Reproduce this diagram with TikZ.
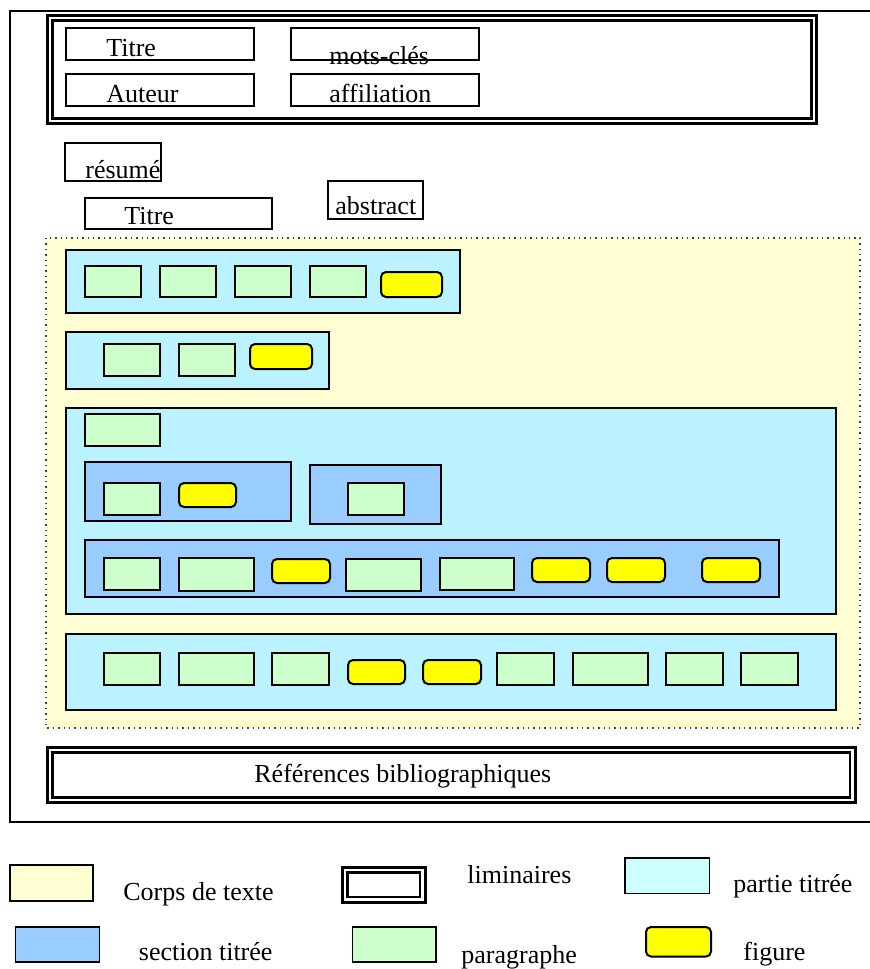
\documentclass[tikz,border=0pt]{standalone}
\usepackage{fontspec}
\setmainfont{Liberation Serif}
\definecolor{corpsjaune}{HTML}{FFFDD2}
\definecolor{partiecyan}{HTML}{BAF2FF}
\definecolor{legendcyan}{HTML}{CCFFFF}
\definecolor{sectionbleu}{HTML}{99CCFF}
\definecolor{paravert}{HTML}{CCFFCC}
\definecolor{figjaune}{HTML}{FFFF00}
\tikzset{
  lbl/.style={anchor=base west, inner sep=0pt, font=\fontsize{13}{15}\selectfont},
  cadre/.style={draw, line width=0.9pt},
  liminaire/.style={draw, line width=1.4pt, double, double distance=1.2pt},
  corpsbox/.style={draw=black!75, dotted, line width=0.7pt, fill=corpsjaune},
  partiebox/.style={draw, line width=1pt, fill=partiecyan},
  sectionbox/.style={draw, line width=1pt, fill=sectionbleu},
  parabox/.style={draw, line width=1pt, fill=paravert},
  figbox/.style={draw, line width=1pt, fill=figjaune, rounded corners=2.5pt},
}
\begin{document}
\begin{tikzpicture}[x=0.5pt, y=-0.5pt]
	\useasboundingbox (0,0) rectangle (869,969);
	% page
	\draw[line width=0.8pt] (890,11) -- (10,11) -- (10,822) -- (890,822);
	% liminaires
	\draw[liminaire] (50,18) rectangle (814,121);
	\draw[cadre] (66,28) rectangle (254,60);
	\draw[cadre] (291,28) rectangle (479,60);
	\draw[cadre] (66,74) rectangle (254,106);
	\draw[cadre] (291,74) rectangle (479,106);
	\node[lbl] (titre) at (106,56) {Titre};
	\node[lbl] (motscles) at (329,64) {mots-clés};
	\node[lbl] (auteur) at (106,102.5) {Auteur};
	\node[lbl] (affiliation) at (329,102.5) {affiliation};
	\draw[cadre, line width=1.2pt] (65,143) rectangle (161,181);
	\node[lbl] (resume) at (85,178) {résumé};
	\draw[cadre] (85,198) rectangle (272,229);
	\node[lbl] (titreen) at (124,224) {Titre};
	\draw[cadre, line width=1.2pt] (328,181) rectangle (423,219);
	\node[lbl] (abstract) at (335,214) {abstract};
	% corps de texte
	\draw[corpsbox] (46,238) rectangle (860,728);
	% partie 1
	\draw[partiebox] (66,250) rectangle (460,313);
	\draw[parabox] (85,266) rectangle (141,297);
	\draw[parabox] (160,266) rectangle (216,297);
	\draw[parabox] (235,266) rectangle (291,297);
	\draw[parabox] (310,266) rectangle (366,297);
	\draw[figbox] (381,272) rectangle (442,297);
	% partie 2
	\draw[partiebox] (66,332) rectangle (329,389);
	\draw[parabox] (104,344) rectangle (160,376);
	\draw[parabox] (179,344) rectangle (235,376);
	\draw[figbox] (250,344) rectangle (312,369);
	% partie 3
	\draw[partiebox] (66,408) rectangle (836,614);
	\draw[parabox] (85,414) rectangle (160,446);
	\draw[sectionbox] (85,462) rectangle (291,521);
	\draw[parabox] (104,483) rectangle (160,515);
	\draw[figbox] (179,483) rectangle (236,507);
	\draw[sectionbox] (310,465) rectangle (441,524);
	\draw[parabox] (348,483) rectangle (404,515);
	\draw[sectionbox] (85,540) rectangle (779,597);
	\draw[parabox] (104,558) rectangle (160,590);
	\draw[parabox] (179,558) rectangle (254,591);
	\draw[figbox] (272,559) rectangle (330,583);
	\draw[parabox] (346,559) rectangle (421,591);
	\draw[parabox] (440,558) rectangle (514,590);
	\draw[figbox] (532,558) rectangle (590,582);
	\draw[figbox] (607,558) rectangle (665,582);
	\draw[figbox] (702,558) rectangle (760,582);
	% partie 4
	\draw[partiebox] (66,634) rectangle (836,710);
	\draw[parabox] (104,653) rectangle (160,685);
	\draw[parabox] (179,653) rectangle (254,685);
	\draw[parabox] (272,653) rectangle (329,685);
	\draw[figbox] (348,660) rectangle (405,684);
	\draw[figbox] (423,660) rectangle (481,684);
	\draw[parabox] (497,653) rectangle (554,685);
	\draw[parabox] (573,653) rectangle (648,685);
	\draw[parabox] (666,653) rectangle (723,685);
	\draw[parabox] (741,653) rectangle (798,685);
	% references
	\draw[liminaire] (50,749.7) rectangle (852.5,800);
	\node[lbl] (biblio) at (254,782) {Références bibliographiques};
	% legende
	\draw[cadre, fill=corpsjaune] (10,865) rectangle (93,901);
	\node[lbl] (lcorps) at (123,900) {Corps de texte};
	\draw[liminaire] (345,870) rectangle (422.5,899.5);
	\node[lbl] (llimin) at (467,883.5) {liminaires};
	\draw[cadre, fill=legendcyan] (625,858) rectangle (709.5,893.5);
	\node[lbl] (lpartie) at (733,892.5) {partie titrée};
	\draw[cadre, fill=sectionbleu] (15.5,927) rectangle (99.5,962);
	\node[lbl] (lsection) at (138.5,960.5) {section titrée};
	\draw[cadre, fill=paravert] (352.5,927) rectangle (436,962);
	\node[lbl] (lpara) at (461,963) {paragraphe};
	\draw[figbox] (646,927) rectangle (711,956.5);
	\node[lbl] (lfigure) at (743,960.5) {figure};
\end{tikzpicture}
\end{document}
